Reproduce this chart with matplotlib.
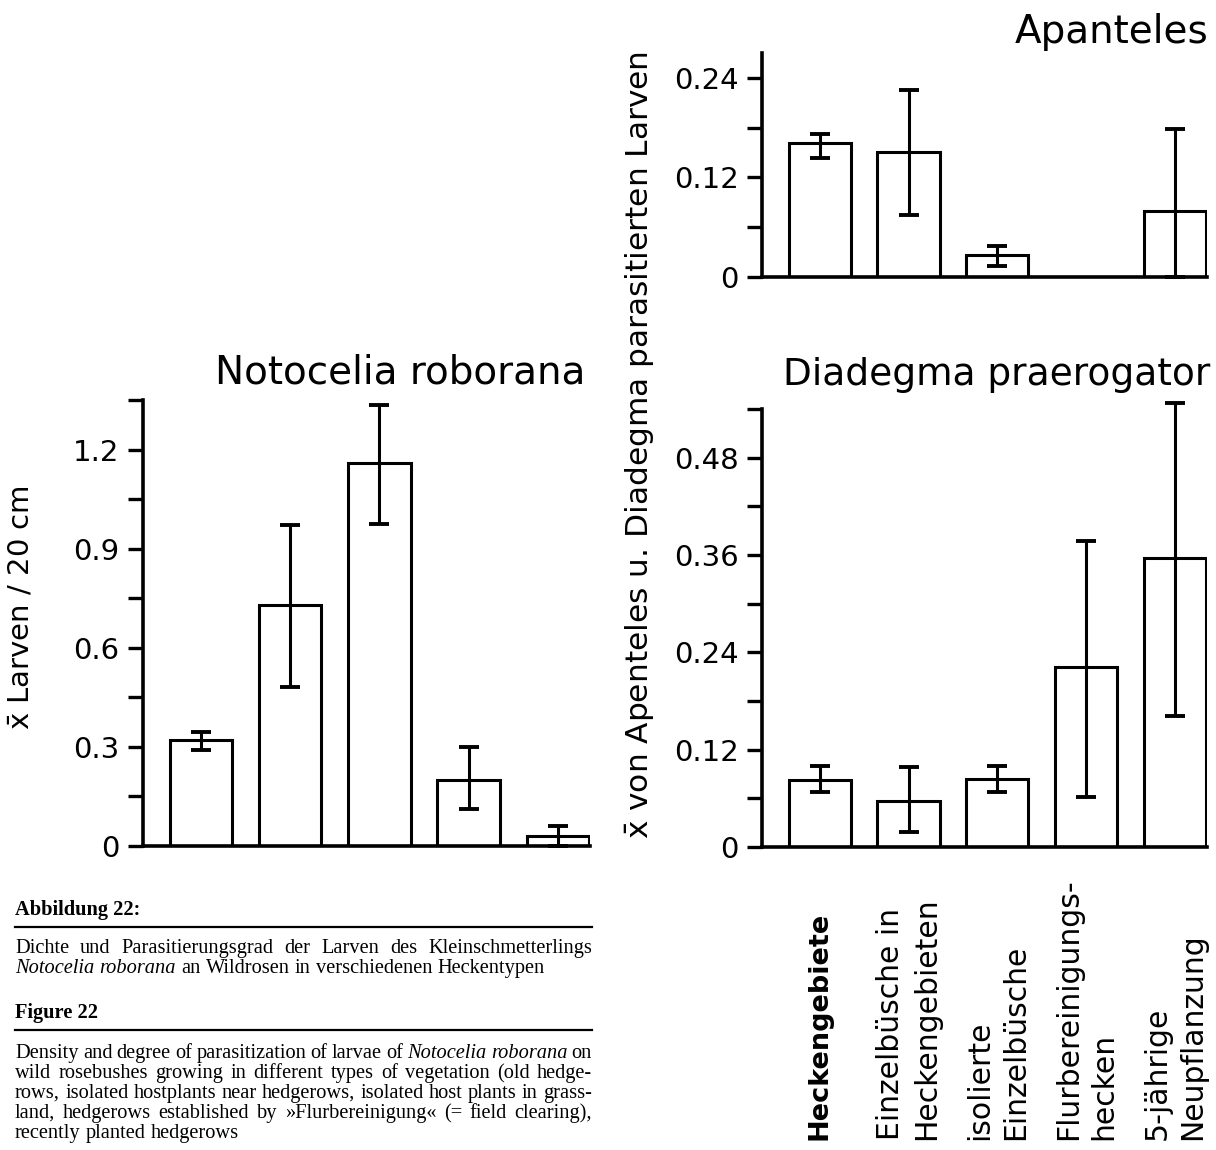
import numpy as np
import matplotlib
matplotlib.use("Agg")
import matplotlib.pyplot as plt
from matplotlib.transforms import blended_transform_factory

# ---------------- data ----------------
categories = ["Heckengebiete", "Einzelbüsche in\nHeckengebieten", "isolierte\nEinzelbüsche",
              "Flurbereinigungs-\nhecken", "5-jährige\nNeupflanzung"]

larvae_mean = [0.32, 0.73, 1.16, 0.20, 0.03]
larvae_lo = [0.29, 0.48, 0.975, 0.113, 0.0]
larvae_hi = [0.346, 0.972, 1.334, 0.301, 0.061]

apanteles_mean = [0.161, 0.151, 0.027, 0.0, 0.079]
apanteles_lo = [0.143, 0.075, 0.013, np.nan, 0.0]
apanteles_hi = [0.172, 0.226, 0.037, np.nan, 0.178]

diadegma_mean = [0.083, 0.057, 0.084, 0.222, 0.356]
diadegma_lo = [0.068, 0.018, 0.068, 0.062, 0.161]
diadegma_hi = [0.100, 0.099, 0.100, 0.377, 0.547]

larvae_major = [0, 0.3, 0.6, 0.9, 1.2]
larvae_minor = [0.15, 0.45, 0.75, 1.05, 1.35]
larvae_labels = ["0", "0.3", "0.6", "0.9", "1.2"]

apanteles_major = [0, 0.12, 0.24]
apanteles_minor = [0.06, 0.18]
apanteles_labels = ["0", "0.12", "0.24"]

diadegma_major = [0, 0.12, 0.24, 0.36, 0.48]
diadegma_minor = [0.06, 0.18, 0.30, 0.42, 0.54]
diadegma_labels = ["0", "0.12", "0.24", "0.36", "0.48"]

W, H = 1216, 1150
plt.rcParams["font.family"] = ["DejaVu Sans"]
fig = plt.figure(figsize=(W / 100, H / 100), dpi=100)
fig.patch.set_facecolor("white")


def px_axes(x0, y0, x1, y1):
    return fig.add_axes([x0 / W, 1 - y1 / H, (x1 - x0) / W, (y1 - y0) / H])


def bar_panel(ax, mean, lo, hi, ylim, major, minor, labels):
    x = np.arange(len(mean))
    mean = np.asarray(mean, float)
    lo = np.asarray(lo, float)
    hi = np.asarray(hi, float)
    ax.bar(x, mean, width=0.7, color="white", edgecolor="black", linewidth=2.2, zorder=2)
    ok = ~np.isnan(lo)
    ax.errorbar(x[ok], mean[ok], yerr=[mean[ok] - lo[ok], hi[ok] - mean[ok]], fmt="none",
                ecolor="black", elinewidth=2.2, capsize=7, capthick=2.8, zorder=3, clip_on=False)
    ax.set_xlim(-0.65, 4.36)
    ax.set_ylim(*ylim)
    for s in ("top", "right"):
        ax.spines[s].set_visible(False)
    ax.spines["left"].set_linewidth(2.6)
    ax.spines["bottom"].set_linewidth(2.6)
    ax.set_xticks([])
    ax.set_yticks(major)
    ax.set_yticklabels(labels)
    ax.set_yticks(minor, minor=True)
    ax.tick_params(axis="y", which="both", direction="out", length=11, width=2.4, pad=6,
                   labelsize=21)
    ax.set_facecolor("none")


ax_l = px_axes(143, 400, 590, 846)
bar_panel(ax_l, larvae_mean, larvae_lo, larvae_hi, (0, 1.35), larvae_major, larvae_minor, larvae_labels)

ax_a = px_axes(762, 53, 1207, 277)
bar_panel(ax_a, apanteles_mean, apanteles_lo, apanteles_hi, (0, 0.27), apanteles_major,
          apanteles_minor, apanteles_labels)

ax_d = px_axes(762, 409, 1207, 847)
bar_panel(ax_d, diadegma_mean, diadegma_lo, diadegma_hi, (0, 0.54), diadegma_major,
          diadegma_minor, diadegma_labels)

# panel titles
fig.text(585 / W, 1 - 372 / H, "Notocelia roborana", ha="right", va="center", fontsize=28)
fig.text(1208 / W, 1 - 32 / H, "Apanteles", ha="right", va="center", fontsize=28)
fig.text(1210 / W, 1 - 375 / H, "Diadegma praerogator", ha="right", va="center", fontsize=27)

# axis labels
fig.text(22 / W, 1 - 608 / H, r"$\mathrm{\bar{x}}$ Larven / 20 cm", rotation=90,
         ha="center", va="center", fontsize=21)
fig.text(640 / W, 1 - 445 / H, r"$\mathrm{\bar{x}}$ von Apenteles u. Diadegma parasitierten Larven",
         rotation=90, ha="center", va="center", fontsize=22.5)

# category labels below the right-hand panels
trans = blended_transform_factory(ax_d.transData, fig.transFigure)
for i, cat in enumerate(categories):
    ax_d.text(i, 1 - 1140 / H, cat, transform=trans, rotation=90, ha="center", va="bottom",
              multialignment="left", fontsize=19.5 if i == 0 else 21.5,
              linespacing=1.3, clip_on=False,
              fontweight="bold" if i == 0 else "normal")

# ---------------- caption ----------------
renderer = fig.canvas.get_renderer()
SERIF = "Liberation Serif"
CAP_SIZE = 14.7
X0, X1 = 15, 592


def text_width(s, **kw):
    t = fig.text(0, 0, s, family=SERIF, fontsize=CAP_SIZE, **kw)
    w = t.get_window_extent(renderer).width
    t.remove()
    return w


SPACE = text_width("a b") - text_width("ab")


def caption_line(words, y, justify=True):
    """words: list of (text, style); y: baseline in pixels from the top."""
    texts = []
    for w, style in words:
        t = fig.text(0, 1 - y / H, w, family=SERIF, fontsize=CAP_SIZE, va="baseline", ha="left",
                     style="italic" if style == "i" else "normal")
        texts.append(t)
    widths = [t.get_window_extent(renderer).width for t in texts]
    if justify and len(texts) > 1:
        gap = (X1 - X0 - sum(widths)) / (len(texts) - 1)
    else:
        gap = SPACE
    x = X0
    for t, w in zip(texts, widths):
        t.set_x(x / W)
        x += w + gap


def words_of(segments):
    out = []
    for seg, style in segments:
        for w in seg.split():
            out.append((w, style))
    return out


def rule(y):
    fig.add_artist(plt.Line2D([X0 / W, X1 / W], [1 - y / H, 1 - y / H], color="black", lw=1.6))


fig.text(X0 / W, 1 - 915 / H, "Abbildung 22:", family=SERIF, fontsize=CAP_SIZE, weight="bold",
         va="baseline")
rule(927)
caption_line(words_of([("Dichte und Parasitierungsgrad der Larven des Kleinschmetterlings", "n")]), 953)
caption_line(words_of([("Notocelia roborana", "i"),
                       ("an Wildrosen in verschiedenen Heckentypen", "n")]), 973, justify=False)

fig.text(X0 / W, 1 - 1018 / H, "Figure 22", family=SERIF, fontsize=CAP_SIZE, weight="bold",
         va="baseline")
rule(1030)
caption_line(words_of([("Density and degree of parasitization of larvae of", "n"),
                       ("Notocelia roborana", "i"), ("on", "n")]), 1058)
caption_line(words_of([("wild rosebushes growing in different types of vegetation (old hedge-", "n")]), 1078)
caption_line(words_of([("rows, isolated hostplants near hedgerows, isolated host plants in grass-", "n")]), 1098)
caption_line(words_of([("land, hedgerows established by \u00bbFlurbereinigung\u00ab (= field clearing),", "n")]), 1118)
caption_line(words_of([("recently planted hedgerows", "n")]), 1138, justify=False)

fig.savefig("out.png", dpi=100, facecolor="white")
